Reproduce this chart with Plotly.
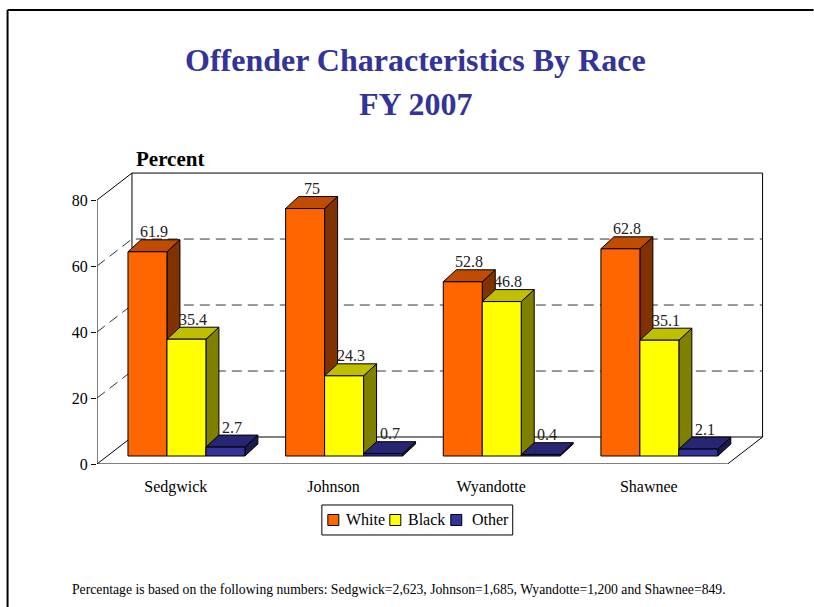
import plotly.graph_objects as go

# ---------------- data ----------------
categories = ["Sedgwick", "Johnson", "Wyandotte", "Shawnee"]
series_names = ["White", "Black", "Other"]
white = [61.9, 75, 52.8, 62.8]
black = [35.4, 24.3, 46.8, 35.1]
other = [2.7, 0.7, 0.4, 2.1]
y_ticks = [0, 20, 40, 60, 80]
title_lines = ["Offender Characteristics By Race", "FY 2007"]
y_title = "Percent"
footnote = ("Percentage is based on the following numbers: Sedgwick=2,623, "
            "Johnson=1,685, Wyandotte=1,200 and Shawnee=849.")

# ---------------- style / geometry ----------------
W, H = 814, 607
X0_PX, Y0_PX = 97, 464          # pixel position of x=0 / y=0 (front plane)
SX, SY = 157.75, 3.3            # pixels per category / per percent
X_MAX, Y_MAX = 4.25, 88.5
FONT = "Liberation Serif"

front_cols = ["#FF6600", "#FFFF00", "#333399"]
top_cols = ["#BF4C00", "#BFBF00", "#262673"]
side_cols = ["#803300", "#808000", "#1A1A4D"]


def dx(px):
    return px / SX


def dy(px):
    return px / SY


def xp(px):  # pixel -> paper x
    return (px - X0_PX) / (X_MAX * SX)


def yp(py):  # pixel -> paper y
    return (Y0_PX - py) / (Y_MAX * SY)


FDX, FDY = dx(35), dy(27)       # floor depth
BSX, BSY = dx(10.4), dy(8)      # bar plane shift
BDX, BDY = dx(13), dy(12)       # bar depth
BW = dx(39)                     # bar width
GL = dx(20.6)                   # group left offset

n_cat = len(categories)
ymax = y_ticks[-1]

fig = go.Figure()

frame_line = dict(color="black", width=1)
grid_line = dict(color="#333333", width=1, dash="10px,6px")

# floor
fig.add_trace(go.Scatter(
    x=[0, n_cat, n_cat + FDX, FDX, 0],
    y=[0, 0, FDY, FDY, 0],
    mode="lines", line=frame_line, fill="toself", fillcolor="white",
    hoverinfo="skip", showlegend=False, cliponaxis=False))
# back wall
fig.add_trace(go.Scatter(
    x=[FDX, FDX, n_cat + FDX, n_cat + FDX],
    y=[FDY, ymax + FDY, ymax + FDY, FDY],
    mode="lines", line=frame_line, hoverinfo="skip", showlegend=False,
    cliponaxis=False))
# top-left diagonal and front y axis line
fig.add_trace(go.Scatter(
    x=[0, FDX, None, 0, 0],
    y=[ymax, ymax + FDY, None, 0, ymax],
    mode="lines", line=frame_line, hoverinfo="skip", showlegend=False,
    cliponaxis=False))
# dashed gridlines
gx, gy = [], []
for v in y_ticks[1:-1]:
    gx += [0, FDX, n_cat + FDX, None]
    gy += [v, v + FDY, v + FDY, None]
fig.add_trace(go.Scatter(x=gx, y=gy, mode="lines", line=grid_line,
                         hoverinfo="skip", showlegend=False, cliponaxis=False))

# bars (side, top, front for each series, left to right)
all_series = [white, black, other]
annotations = []
for j, vals in enumerate(all_series):
    sx, sy, tx, ty, fx, fy = [], [], [], [], [], []
    for i, v in enumerate(vals):
        x0 = i + GL + j * BW + BSX
        x1 = x0 + BW
        y0 = BSY
        y1 = BSY + v
        sx += [x1, x1 + BDX, x1 + BDX, x1, x1, None]
        sy += [y0, y0 + BDY, y1 + BDY, y1, y0, None]
        tx += [x0, x1, x1 + BDX, x0 + BDX, x0, None]
        ty += [y1, y1, y1 + BDY, y1 + BDY, y1, None]
        fx += [x0, x1, x1, x0, x0, None]
        fy += [y0, y0, y1, y1, y0, None]
        annotations.append(dict(
            x=(x0 + x1) / 2 + BDX / 2, y=y1 + BDY / 2, xref="x", yref="y",
            text=f"{v:g}", showarrow=False, yanchor="middle", yshift=14,
            font=dict(family=FONT, size=16, color="#222222")))
    for xs, ys, col, nm in ((sx, sy, side_cols[j], None),
                            (tx, ty, top_cols[j], None),
                            (fx, fy, front_cols[j], series_names[j])):
        fig.add_trace(go.Scatter(
            x=xs, y=ys, mode="lines", fill="toself", fillcolor=col,
            line=dict(color="black", width=1), hoverinfo="skip",
            name=nm if nm else "", showlegend=False, cliponaxis=False))

# legend (drawn as a compact boxed key below the floor)
LEG_BOX = (322, 505, 513, 535)
LEG_SQ_X = [328, 390, 451]
LEG_TX_X = [344, 406, 470]
LEG_CY = 520
shapes = [
    dict(type="rect", xref="paper", yref="paper",
         x0=xp(LEG_BOX[0]), y0=yp(LEG_BOX[1]), x1=xp(LEG_BOX[2]), y1=yp(LEG_BOX[3]),
         line=dict(color="black", width=1), fillcolor="white"),
]
for j, name in enumerate(series_names):
    shapes.append(dict(type="rect", xref="paper", yref="paper",
                       x0=xp(LEG_SQ_X[j]), x1=xp(LEG_SQ_X[j] + 11),
                       y0=yp(LEG_CY - 5.5), y1=yp(LEG_CY + 5.5),
                       line=dict(color="black", width=1), fillcolor=front_cols[j]))
    annotations.append(dict(x=xp(LEG_TX_X[j]), y=yp(LEG_CY), xref="paper", yref="paper",
                            text=name, showarrow=False, xanchor="left", yanchor="middle",
                            font=dict(family=FONT, size=16, color="black")))

# titles and texts
annotations += [
    dict(x=xp(416), y=yp(60), xref="paper", yref="paper", text=f"<b>{title_lines[0]}</b>",
         showarrow=False, xanchor="center", yanchor="middle",
         font=dict(family=FONT, size=32, color="#333399")),
    dict(x=xp(416), y=yp(104), xref="paper", yref="paper", text=f"<b>{title_lines[1]}</b>",
         showarrow=False, xanchor="center", yanchor="middle",
         font=dict(family=FONT, size=32, color="#333399")),
    dict(x=xp(134), y=yp(159), xref="paper", yref="paper", text=f"<b>{y_title}</b>",
         showarrow=False, xanchor="left", yanchor="middle",
         font=dict(family=FONT, size=21, color="black")),
    dict(x=xp(399), y=yp(590), xref="paper", yref="paper", text=footnote,
         showarrow=False, xanchor="center", yanchor="middle",
         font=dict(family=FONT, size=13.7, color="black")),
]

shapes += [
    dict(type="line", xref="paper", yref="paper", x0=xp(7.5), y0=yp(10),
         x1=xp(814), y1=yp(10), line=dict(color="black", width=2)),
    dict(type="line", xref="paper", yref="paper", x0=xp(7.5), y0=yp(10),
         x1=xp(7.5), y1=yp(607), line=dict(color="black", width=2)),
]

plot_h = Y_MAX * SY
plot_w = X_MAX * SX
fig.update_layout(
    width=W, height=H,
    margin=dict(l=X0_PX, r=W - X0_PX - plot_w, t=Y0_PX - plot_h, b=H - Y0_PX,
                pad=0, autoexpand=False),
    paper_bgcolor="white", plot_bgcolor="white",
    showlegend=False,
    xaxis=dict(range=[0, X_MAX], tickvals=[i + 0.5 for i in range(n_cat)],
               ticktext=categories, ticks="outside", ticklen=8,
               tickcolor="rgba(0,0,0,0)", showgrid=False, zeroline=False,
               showline=False, fixedrange=True, automargin=False,
               tickfont=dict(family=FONT, size=16, color="black")),
    xaxis2=dict(range=[0, X_MAX], overlaying="x", anchor="y", side="bottom",
                tickvals=list(range(n_cat + 1)), ticks="outside", ticklen=6,
                tickcolor="black", showticklabels=False, showgrid=False,
                zeroline=False, showline=False, automargin=False),
    yaxis=dict(range=[0, Y_MAX], tickvals=y_ticks, ticks="outside", ticklen=5,
               tickcolor="black", showgrid=False, zeroline=False,
               showline=False, fixedrange=True, automargin=False,
               tickfont=dict(family=FONT, size=16, color="black")),
    annotations=annotations,
    shapes=shapes,
    font=dict(family=FONT),
)

fig.write_html("out.html", config={"displayModeBar": False},
               post_script="document.body.style.margin='0';document.body.style.overflow='hidden';")
